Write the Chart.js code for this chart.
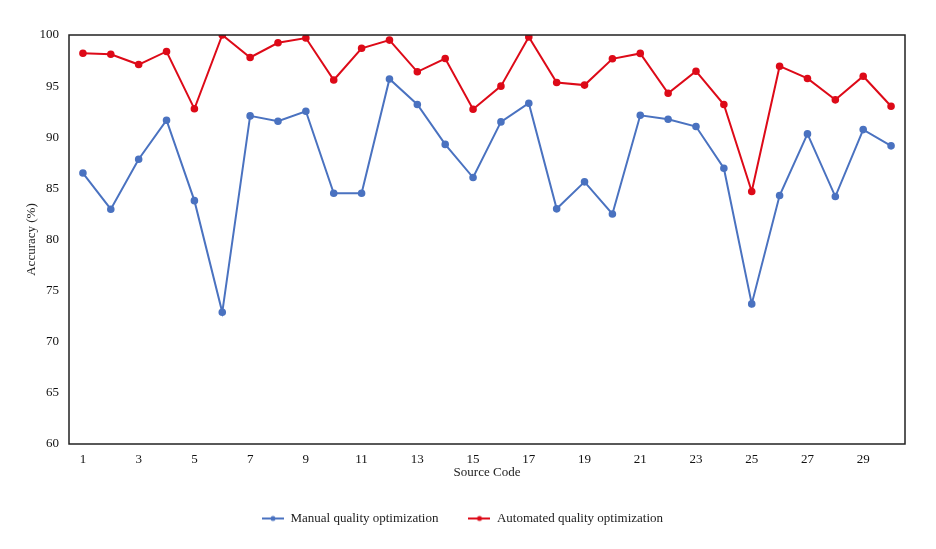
<!DOCTYPE html>
<html>
<head>
  <title>Accuracy by Source Code</title>
  <script src="https://cdn.jsdelivr.net/npm/chart.js"></script>
  <style>
    html, body { margin: 0; padding: 0; background: #fff; }
    #wrap { width: 936px; height: 549px; }
  </style>
</head>
<body>
  <div id="wrap"><canvas id="accChart"></canvas></div>

  <script>
    const sourceCodes = [...Array(30).keys()].map(i => String(i + 1));

    const manualAcc = [86.5, 82.96, 87.85, 91.66, 83.8, 72.88, 92.09, 91.57, 92.54, 84.52,
                       84.52, 95.7, 93.2, 89.3, 86.06, 91.5, 93.33, 83.0, 85.64, 82.5,
                       92.15, 91.76, 91.05, 86.97, 73.7, 84.3, 90.33, 84.2, 90.75, 89.16];

    const automatedAcc = [98.22, 98.12, 97.11, 98.39, 92.78, 100, 97.8, 99.24, 99.7, 95.6,
                          98.7, 99.5, 96.4, 97.7, 92.74, 95.0, 99.8, 95.35, 95.1, 97.67,
                          98.2, 94.3, 96.46, 93.2, 84.7, 96.95, 95.75, 93.66, 95.97, 93.03];

    const blue = '#4a72c0';
    const red = '#dd0a18';
    const serif = "'Liberation Serif', 'Times New Roman', serif";

    // little line-with-dot marker for the legend
    function legendMark(color) {
      const c = document.createElement('canvas');
      c.width = 22; c.height = 8;
      const g = c.getContext('2d');
      g.strokeStyle = color;
      g.lineWidth = 2;
      g.beginPath(); g.moveTo(0, 4); g.lineTo(22, 4); g.stroke();
      g.fillStyle = color;
      g.beginPath(); g.arc(11, 4, 2.5, 0, Math.PI * 2); g.fill();
      return c;
    }

    // box around the plot area
    const frame = {
      id: 'frame',
      afterDraw(chart) {
        const a = chart.chartArea, c = chart.ctx;
        c.save();
        c.strokeStyle = '#222';
        c.lineWidth = 1.5;
        c.strokeRect(a.left, a.top, a.right - a.left, a.bottom - a.top);
        c.restore();
      }
    };

    const ctx = document.getElementById('accChart').getContext('2d');
    new Chart(ctx, {
      type: 'line',
      data: {
        labels: sourceCodes,
        datasets: [{
          label: 'Manual quality optimization',
          data: manualAcc,
          borderColor: blue,
          backgroundColor: blue,
          borderWidth: 2,
          pointRadius: 2.8,
          tension: 0
        }, {
          label: 'Automated quality optimization',
          data: automatedAcc,
          borderColor: red,
          backgroundColor: red,
          borderWidth: 2,
          pointRadius: 2.8,
          tension: 0
        }]
      },
      options: {
        responsive: true,
        maintainAspectRatio: false,
        animation: false,
        layout: { padding: { top: 35, right: 31, left: 20, bottom: 14 } },
        plugins: {
          tooltip: { enabled: false },
          legend: {
            position: 'bottom',
            labels: {
              font: { family: serif, size: 13 },
              color: '#222',
              usePointStyle: true,
              pointStyleWidth: 22,
              padding: 30,
              generateLabels(chart) {
                const items = Chart.defaults.plugins.legend.labels.generateLabels(chart);
                items.forEach((it, i) => { it.pointStyle = legendMark(i === 0 ? blue : red); });
                return items;
              }
            }
          }
        },
        scales: {
          x: {
            offset: true,
            grid: { display: false, drawTicks: false },
            border: { display: false },
            afterFit(s) { s.height = 38; },
            ticks: {
              color: '#111',
              font: { family: serif, size: 13 },
              padding: 8,
              maxRotation: 0,
              autoSkip: false,
              callback: (v, i) => (i % 2 === 0 ? sourceCodes[i] : '')
            },
            title: { display: true, text: 'Source Code', color: '#222', font: { family: serif, size: 13 }, padding: { top: 0, bottom: 2 } }
          },
          y: {
            min: 60,
            max: 100,
            grid: { display: false, drawTicks: false },
            border: { display: false },
            afterFit(s) { s.width = 49; },
            ticks: {
              stepSize: 5,
              color: '#111',
              font: { family: serif, size: 13 },
              padding: 10
            },
            title: { display: true, text: 'Accuracy (%)', color: '#222', font: { family: serif, size: 13 } }
          }
        }
      },
      plugins: [frame]
    });
  </script>
</body>
</html>
